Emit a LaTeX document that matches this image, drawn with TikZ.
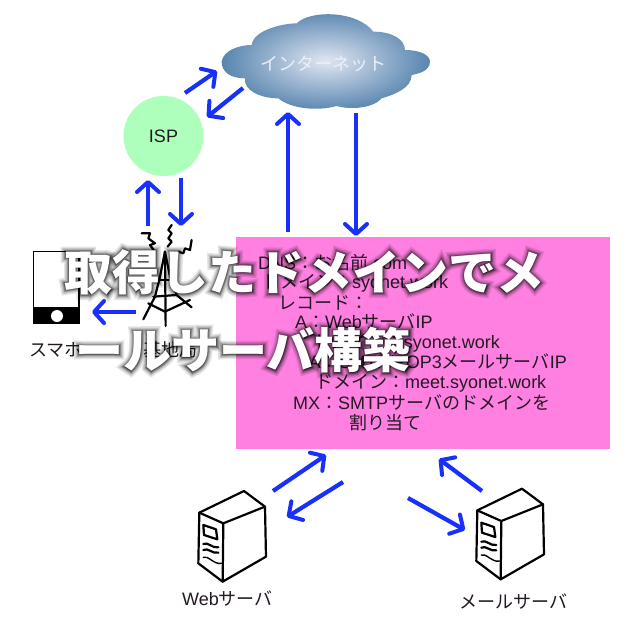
\documentclass[tikz,border=0pt]{standalone}
\usepackage{fontspec}
\setmainfont{Liberation Sans}
\newfontfamily\ja{Noto Sans CJK JP}
\newfontface\glowa[FakeBold=4]{Noto Sans CJK JP Bold}
\newfontface\glowb[FakeBold=8]{Noto Sans CJK JP Bold}
\newfontface\glowc[FakeBold=12]{Noto Sans CJK JP Bold}
\newfontface\glowd[FakeBold=17]{Noto Sans CJK JP Bold}
\newfontface\glowe[FakeBold=23]{Noto Sans CJK JP Bold}
\usetikzlibrary{arrows.meta}
\definecolor{arrowblue}{RGB}{24,48,250}
\definecolor{pinkbox}{RGB}{255,128,224}
\definecolor{ispgreen}{RGB}{175,255,188}
\definecolor{cloudout}{RGB}{88,133,175}
\definecolor{cloudin}{RGB}{224,230,242}
\definecolor{inktext}{RGB}{35,25,35}
\tikzset{
  bluearrow/.style={draw=arrowblue,line width=4.2pt,-{Straight Barb[length=10pt,width=22pt,line width=4pt,round]}},
  ink/.style={draw=black,line width=2.2pt,line join=round,line cap=round},
  boxline/.style={font=\fontsize{18}{20}\selectfont,text=inktext,inner sep=0pt},
  smalllabel/.style={font=\fontsize{18}{20}\selectfont,text=inktext,inner sep=0pt},
  titletext/.style={font=\fontsize{48}{50}\selectfont\bfseries\ja,inner sep=0pt,anchor=west},
  glowtext/.style={font=\fontsize{48}{50}\selectfont,inner sep=0pt,anchor=west,text=black},
}
\newcommand{\arr}[3]{\coordinate (#1s) at (#2); \coordinate (#1e) at (#3); \draw[bluearrow] (#1s) -- (#1e);}
\newcommand{\serverpic}{%
  \draw[ink,fill=white] (88,218) -- (222,153) -- (285,200) -- (288,350) -- (158,425) -- (85,370) -- cycle;
  \draw[ink] (88,218) -- (160,250) -- (285,200);
  \draw[ink] (160,250) -- (158,425);
  \draw[ink] (100,255) -- (138,268) -- (142,298) -- (102,285) -- cycle;
  \draw[ink] (100,312) .. controls (115,305) and (125,325) .. (145,322);
  \draw[ink] (100,330) .. controls (115,322) and (125,342) .. (145,338);
  \draw[ink,line width=1.4pt] (100,352) .. controls (115,345) and (130,375) .. (155,370);
}
\begin{document}
\begin{tikzpicture}[x=1pt,y=-1pt]
\useasboundingbox (0,0) rectangle (630,630);
\fill[white] (0,0) rectangle (630,630);
% pink box
\node[draw=none,fill=pinkbox,minimum width=374pt,minimum height=212pt,inner sep=0pt] (dns) at (423,343) {};
% isp
\node[circle,fill=ispgreen,minimum size=80pt,inner sep=0pt,font=\fontsize{18}{20}\selectfont,text=inktext] (isp) at (163.5,136) {ISP};
% cloud
\begin{scope}[shift={(110pt,0pt)},x=.3333pt,y=-.3333pt]
\shade[inner color=cloudin,outer color=cloudout] (335,185)
 .. controls (340,150) and (390,135) .. (425,135)
 .. controls (430,90) and (520,70) .. (560,70)
 .. controls (600,30) and (740,30) .. (790,95)
 .. controls (850,95) and (885,120) .. (885,150)
 .. controls (930,150) and (960,165) .. (960,185)
 .. controls (960,215) and (920,222) .. (905,225)
 .. controls (905,265) and (850,285) .. (815,295)
 .. controls (790,325) and (720,330) .. (680,318)
 .. controls (620,335) and (540,325) .. (505,295)
 .. controls (450,295) and (400,270) .. (405,235)
 .. controls (360,235) and (335,215) .. (335,185) -- cycle;
\end{scope}
\node[inner sep=0pt,font=\fontsize{18}{20}\selectfont\ja,text={rgb,255:red,236;green,239;blue,246}] (net) at (323.5,64) {インターネット};
% phone
\draw[black,line width=1.8pt,fill=white] (33.5,251.5) rectangle (79,323);
\fill[black] (33,307) rectangle (79.5,323.5);
\fill[white] (57,316) circle (6pt);
% tower
\begin{scope}[shift={(0pt,-200pt)},x=.3333pt,y=-.3333pt]
\draw[ink] (425,100) -- (450,100) -- (445,115) -- (465,130) -- (450,135) -- (465,155);
\draw[ink] (515,75) -- (505,90) -- (515,100) -- (505,115) -- (515,125) -- (503,140);
\draw[ink] (535,155) -- (550,160) -- (555,145) -- (570,150) -- (575,120);
\draw[ink] (495,155) -- (480,230) -- (465,290) -- (430,358);
\draw[ink] (495,155) -- (510,230) -- (530,285) -- (575,322);
\draw[ink] (495,155) -- (497,378);
\draw[ink] (445,310) -- (495,335) -- (570,300);
\draw[ink] (460,290) -- (530,285);
\draw[ink] (475,240) -- (515,240);
\end{scope}
% servers
\begin{scope}[shift={(170pt,-440pt)},x=.3333pt,y=-.3333pt]\serverpic\end{scope}
\begin{scope}[shift={(448pt,-437.7pt)},x=.3333pt,y=-.3333pt]\serverpic\end{scope}
% arrows
\arr{a}{185,93}{217,71}
\arr{b}{243,88}{207,117}
\arr{c}{288,232}{288,112}
\arr{d}{356,113}{356,236}
\arr{f}{148,226}{148,180}
\arr{g}{181,178}{181,226}
\arr{h}{136,312}{92,312}
\arr{i}{273,491}{326,455}
\arr{j}{343,482}{287,517}
\arr{k}{408,498}{465,530}
\arr{l}{482,491}{439,459}
% labels
\node[smalllabel,anchor=west] (lphone) at (29,350) {\ja スマホ};
\node[smalllabel,anchor=west] (ltower) at (143,350) {\ja 基地局};
\node[smalllabel,anchor=west] (lweb) at (182,599) {Web\ja サーバ};
\node[smalllabel,anchor=west] (lmail) at (459,602) {\ja メールサーバ};
% box text
\node[boxline,anchor=west] (t1) at (258,263) {DNS\ja ：お名前\rmfamily .com};
\node[boxline,anchor=west] (t2) at (262,283) {\ja ドメイン：\rmfamily syonet.work};
\node[boxline,anchor=west] (t3) at (278,303) {\ja レコード：};
\node[boxline,anchor=west] (t4) at (295,322) {A\ja ：\rmfamily Web\ja サーバ\rmfamily IP};
\node[boxline,anchor=east] (t5) at (500,343) {\ja ドメイン：\rmfamily syonet.work};
\node[boxline,anchor=east] (t6) at (567,362) {A\ja ：\rmfamily SMTP/POP3\ja メールサーバ\rmfamily IP};
\node[boxline,anchor=west] (t7) at (315,383) {\ja ドメイン：\rmfamily meet.syonet.work};
\node[boxline,anchor=west] (t8) at (293,403) {MX\ja ：\rmfamily SMTP\ja サーバのドメインを};
\node[boxline,anchor=west] (t9) at (349,423) {\ja 割り当て};
% title glow: stroked copies of growing width
\foreach \f/\o/\n in {\glowe/0.1/e,\glowd/0.13/d,\glowc/0.18/c,\glowb/0.25/b,\glowa/0.35/a}{
  \begin{scope}[opacity=\o]
    \node[glowtext] (ga\n) at (64,272) {\f 取得したドメインでメ};
    \node[glowtext] (gb\n) at (75,350) {\f ールサーバ構築};
  \end{scope}
}
\node[titletext,text=white] (title1) at (64,272) {取得したドメインでメ};
\node[titletext,text=white] (title2) at (75,350) {ールサーバ構築};
\end{tikzpicture}
\end{document}
